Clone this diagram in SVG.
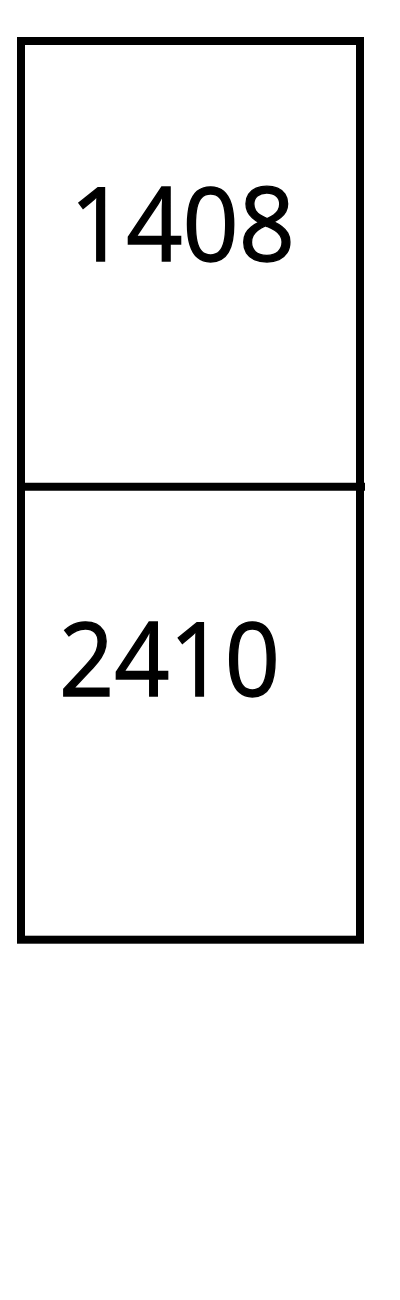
<svg xmlns="http://www.w3.org/2000/svg" width="400" height="1300" viewBox="0 0 400 1300">
<style>
.box{fill:none;stroke:#000;stroke-width:8}
.lbl{font-family:"Open Sans","Liberation Sans",sans-serif;font-size:103px;fill:#000;stroke:#000;stroke-width:1.4}
</style>
<rect width="400" height="1300" fill="#fff"/>
<g id="connectors">
<line class="box" x1="17" y1="486.7" x2="365" y2="486.7"/>
</g>
<g id="outer">
<rect class="box" x="21" y="41" width="339" height="898.7"/>
</g>
<g id="node-1408">
<text class="lbl" x="70" y="260.7" textLength="225" lengthAdjust="spacingAndGlyphs">1408</text>
</g>
<g id="node-2410">
<text class="lbl" x="59" y="696" textLength="221" lengthAdjust="spacingAndGlyphs">2410</text>
</g>
</svg>
